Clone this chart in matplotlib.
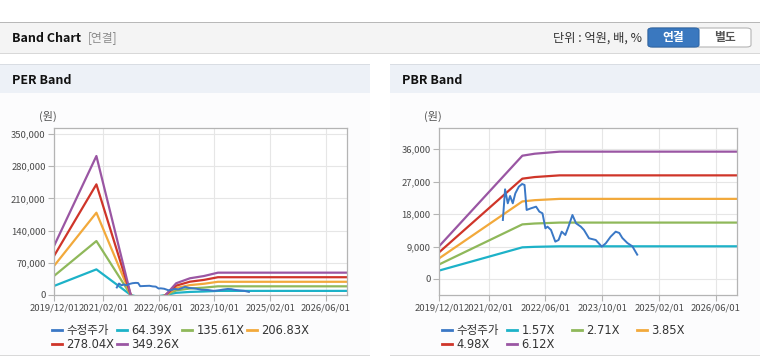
import numpy as np
import pandas as pd
import matplotlib
matplotlib.use('Agg')
import matplotlib.pyplot as plt
import matplotlib.dates as mdates
from matplotlib.patches import Rectangle, FancyBboxPatch
from matplotlib.lines import Line2D

plt.rcParams['font.family'] = ['Noto Sans CJK KR', 'DejaVu Sans']

# ---- data ----
price_dates = ['2021-06-01', '2021-06-20', '2021-07-13', '2021-08-02', '2021-08-25',
               '2021-09-16', '2021-10-16', '2021-11-13', '2021-12-04', '2021-12-22',
               '2022-01-28', '2022-03-13', '2022-04-10', '2022-05-07', '2022-06-01',
               '2022-06-19', '2022-07-19', '2022-08-25', '2022-09-22', '2022-10-19',
               '2022-11-19', '2022-12-16', '2023-01-19', '2023-02-19', '2023-04-01',
               '2023-04-28', '2023-06-10', '2023-08-07', '2023-09-28', '2023-11-01',
               '2023-12-13', '2024-01-25', '2024-02-25', '2024-03-22', '2024-05-04',
               '2024-06-16', '2024-07-28']
price_values = [16370, 24890, 21000, 23030, 21000, 23770, 25620, 26360, 26090, 19150,
                19610, 20070, 18690, 18220, 14060, 14520, 13600, 10360, 10820, 13130,
                12210, 14520, 17760, 15450, 14520, 13600, 11290, 10820, 8970, 9900,
                11750, 13130, 12770, 11380, 9990, 9065, 6750]

# EPS behind PER bands (negative stretch is below the axis)
eps_dates = ['2019-12-01', '2020-12-05', '2021-10-01', '2022-02-01', '2022-08-01',
             '2022-11-01', '2023-03-01', '2023-07-01', '2023-11-01', '2026-12-01']
eps_values = [305, 865, 0, -120, 0, 73, 104, 118, 139, 139]
per_multiples = [64.39, 135.61, 206.83, 278.04, 349.26]

# BPS behind PBR bands
bps_dates = ['2019-12-01', '2021-11-15', '2022-03-01', '2022-10-01', '2026-12-01']
bps_values = [1480, 5590, 5680, 5774, 5774]
pbr_multiples = [1.57, 2.71, 3.85, 4.98, 6.12]

band_colors = ['#1db2c8', '#8fb85a', '#f2a93b', '#cf3529', '#9a56a3']
price_color = '#3a78c6'

x_ticks = ['2019/12/01', '2021/02/01', '2022/06/01', '2023/10/01', '2025/02/01', '2026/06/01']
per_yticks = [0, 70000, 140000, 210000, 280000, 350000]
pbr_yticks = [0, 9000, 18000, 27000, 36000]

W, H = 760, 364
fig = plt.figure(figsize=(W / 100, H / 100), dpi=100)
fig.patch.set_facecolor('white')


def px_rect(x0, y0, x1, y1, **kw):
    # rectangle in pixel coords measured from the top-left
    fig.patches.append(Rectangle((x0 / W, 1 - y1 / H), (x1 - x0) / W, (y1 - y0) / H,
                                 transform=fig.transFigure, zorder=0, **kw))


def px_text(x, y, s, **kw):
    fig.text(x / W, 1 - y / H, s, **kw)


# top header
px_rect(0, 22, W, 53, facecolor='#f4f4f4', edgecolor='none')
px_rect(0, 21.5, W, 23, facecolor='#b8b8b8', edgecolor='none')
px_rect(0, 52.5, W, 54, facecolor='#d8d8d8', edgecolor='none')
px_text(12, 38, 'Band Chart', fontsize=9, fontweight='bold', color='#111', va='center')
px_text(88, 38, '[연결]', fontsize=8.5, color='#8a8a8a', va='center')
px_text(642, 38, '단위 : 억원, 배, %', fontsize=8.8, color='#333', va='center', ha='right')
fig.patches.append(FancyBboxPatch((648 / W, 1 - 47 / H), 103 / W, 19 / H,
                                  boxstyle='round,pad=0,rounding_size=0.006',
                                  transform=fig.transFigure, facecolor='white',
                                  edgecolor='#b5b5b5', lw=0.8))
fig.patches.append(FancyBboxPatch((648 / W, 1 - 47 / H), 51 / W, 19 / H,
                                  boxstyle='round,pad=0,rounding_size=0.006',
                                  transform=fig.transFigure, facecolor='#3a78bf',
                                  edgecolor='#2f67a8', lw=0.8))
px_text(673.5, 37.5, '연결', fontsize=8.5, fontweight='bold', color='white', ha='center', va='center')
px_text(725, 37.5, '별도', fontsize=8.5, fontweight='bold', color='#555', ha='center', va='center')

# panels
for x0, x1, title in [(0, 370, 'PER Band'), (390, 760, 'PBR Band')]:
    px_rect(x0, 64, x1, 355, facecolor='#fcfcfd', edgecolor='none')
    px_rect(x0, 64, x1, 93, facecolor='#edf1f7', edgecolor='none')
    px_rect(x0, 63.5, x1, 65, facecolor='#d9dde3', edgecolor='none')
    px_rect(x0, 354.5, x1, 356, facecolor='#d9d9d9', edgecolor='none')
    px_text(x0 + 12, 80, title, fontsize=9, fontweight='bold', color='#111', va='center')


def draw_panel(rect, base_dates, base_values, multiples, yticks, ylim, labels, legend_x):
    ax = fig.add_axes(rect)
    ax.set_zorder(5)
    ax.set_facecolor('white')
    bd = pd.to_datetime(base_dates)
    for m, c in zip(multiples, band_colors):
        ax.plot(bd, np.array(base_values) * m, color=c, lw=1.6, zorder=2)
    ax.plot(pd.to_datetime(price_dates), price_values, color=price_color, lw=1.4, zorder=3)
    ax.set_xlim(pd.Timestamp('2019-12-01'), pd.Timestamp('2026-12-01'))
    ax.set_ylim(*ylim)
    ax.set_xticks(pd.to_datetime(x_ticks, format='%Y/%m/%d'))
    ax.xaxis.set_major_formatter(mdates.DateFormatter('%Y/%m/%d'))
    ax.set_yticks(yticks)
    ax.set_yticklabels([f'{v:,}' for v in yticks])
    ax.grid(True, color='#e6e6e6', lw=0.8, zorder=0)
    ax.set_axisbelow(True)
    for s in ax.spines.values():
        s.set_color('#b4b4b4')
        s.set_linewidth(0.9)
    ax.tick_params(axis='both', labelsize=6.8, colors='#b4b4b4', labelcolor='#4a4a4a',
                   length=4, width=0.8, pad=2)

    # legend: 4 fixed-width columns, two rows
    entries = [(price_color, labels[0])] + list(zip(band_colors, labels[1:]))
    for col in range(4):
        items = entries[col::4]
        leg = fig.legend([Line2D([], [], color=c, lw=2) for c, _ in items],
                         [t for _, t in items], frameon=False, loc='upper left',
                         bbox_to_anchor=((legend_x + 65 * col) / W, 1 - 324 / H),
                         prop={'family': ['DejaVu Sans', 'Noto Sans CJK KR'], 'size': 8.3},
                         handlelength=0.9, handletextpad=0.35, labelspacing=0.1,
                         borderaxespad=0, borderpad=0)
        leg.set_zorder(6)
        for t in leg.get_texts():
            t.set_color('#333')
    return ax


draw_panel([54 / W, 1 - 295 / H, 293 / W, 167 / H], eps_dates, eps_values, per_multiples,
           per_yticks, (0, 363000),
           ['수정주가'] + [f'{m:.2f}X' for m in per_multiples], 52)
draw_panel([439 / W, 1 - 295 / H, 298 / W, 167 / H], bps_dates, bps_values, pbr_multiples,
           pbr_yticks, (-4450, 41900),
           ['수정주가'] + [f'{m:.2f}X' for m in pbr_multiples], 442)

px_text(48, 116, '(원)', fontsize=8, color='#555', ha='center', va='center')
px_text(433, 116, '(원)', fontsize=8, color='#555', ha='center', va='center')

fig.savefig('out.png', dpi=100)
